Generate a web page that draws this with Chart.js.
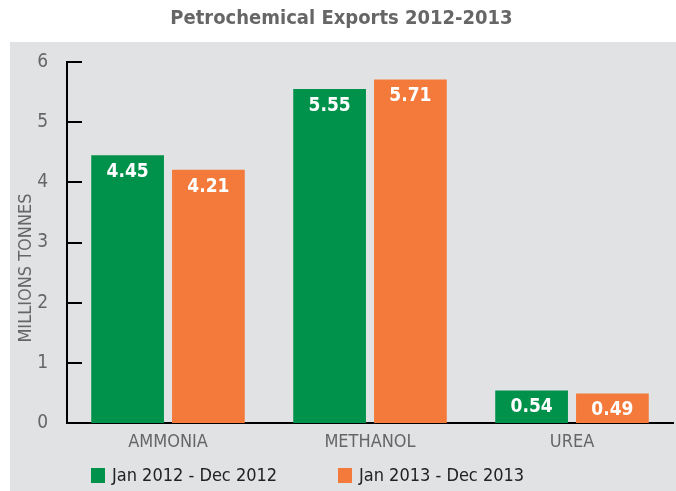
<!DOCTYPE html>
<html>
<head>
<meta charset="utf-8">
<script src="https://cdn.jsdelivr.net/npm/chart.js@4.4.1/dist/chart.umd.min.js"></script>
<style>
html, body { margin: 0; padding: 0; background: #fff; }
</style>
</head>
<body>
<canvas id="bar-chart" width="676" height="491"></canvas>
<script>
const categories = ['AMMONIA', 'METHANOL', 'UREA'];
const seriesNames = ['Jan 2012 - Dec 2012', 'Jan 2013 - Dec 2013'];
const exports2012 = [4.45, 5.55, 0.54];
const exports2013 = [4.21, 5.71, 0.49];
const yTicks = [0, 1, 2, 3, 4, 5, 6];
const colors = ['#00924a', '#f47a3c'];

const FONT = '"DejaVu Sans Condensed", "Liberation Sans Narrow", sans-serif';

// background panel, inward y ticks, value labels, axis title, legend
const decor = {
    id: 'decor',
    beforeDraw(chart) {
        const ctx = chart.ctx;
        ctx.save();
        ctx.fillStyle = '#fff';
        ctx.fillRect(0, 0, chart.width, chart.height);
        ctx.fillStyle = '#e1e2e4';
        ctx.fillRect(10, 42, chart.width - 10, chart.height - 42);
        ctx.restore();
    },
    afterDraw(chart) {
        const ctx = chart.ctx;
        const y = chart.scales.y;
        const left = chart.chartArea.left;
        ctx.save();
        // inward tick marks
        ctx.strokeStyle = '#000';
        ctx.lineWidth = 2;
        yTicks.forEach(v => {
            const py = Math.round(y.getPixelForValue(v));
            ctx.beginPath();
            ctx.moveTo(left, py);
            ctx.lineTo(left + 15, py);
            ctx.stroke();
        });
        // values inside the bars
        ctx.fillStyle = '#fff';
        ctx.font = 'bold 19px ' + FONT;
        ctx.textAlign = 'center';
        ctx.textBaseline = 'middle';
        chart.data.datasets.forEach((ds, i) => {
            chart.getDatasetMeta(i).data.forEach((bar, j) => {
                ctx.fillText(ds.data[j].toFixed(2), bar.x, bar.y + 17);
            });
        });
        // y axis title
        ctx.fillStyle = '#666';
        ctx.font = '18px ' + FONT;
        ctx.translate(26, 268);
        ctx.rotate(-Math.PI / 2);
        ctx.fillText('MILLIONS TONNES', 0, 0);
        ctx.restore();
        // legend
        ctx.save();
        ctx.font = '18px ' + FONT;
        ctx.textBaseline = 'middle';
        ctx.textAlign = 'left';
        const legendX = [91, 338];
        chart.data.datasets.forEach((ds, i) => {
            ctx.fillStyle = ds.backgroundColor;
            ctx.fillRect(legendX[i], 468, 14, 15);
            ctx.fillStyle = '#222';
            ctx.fillText(ds.label, legendX[i] + 21, 476);
        });
        ctx.restore();
    }
};

const ctx = document.getElementById('bar-chart').getContext('2d');
const myChart = new Chart(ctx, {
    type: 'bar',
    data: {
        labels: categories,
        datasets: [
            { label: seriesNames[0], data: exports2012, backgroundColor: colors[0] },
            { label: seriesNames[1], data: exports2013, backgroundColor: colors[1] }
        ]
    },
    options: {
        responsive: false,
        animation: false,
        categoryPercentage: 0.8,
        barPercentage: 0.9,
        layout: { padding: { left: 10, right: 3, top: 0, bottom: 30 } },
        scales: {
            x: {
                grid: { display: false },
                border: { display: true, color: '#000', width: 2 },
                ticks: { color: '#666', font: { family: FONT, size: 18 }, padding: 1 },
                afterFit(scale) { scale.height = 38; }
            },
            y: {
                min: 0,
                max: 6,
                grid: { display: false },
                border: { display: true, color: '#000', width: 2 },
                ticks: {
                    stepSize: 1,
                    color: '#666',
                    font: { family: FONT, size: 19 },
                    padding: 11
                },
                afterFit(scale) { scale.width = 57; }
            }
        },
        plugins: {
            legend: { display: false },
            tooltip: { enabled: false },
            title: {
                display: true,
                text: 'Petrochemical Exports 2012-2013',
                color: '#666',
                font: { family: FONT, size: 20, weight: 'bold' },
                padding: { top: 7, bottom: 31 }
            }
        }
    },
    plugins: [decor]
});
</script>
</body>
</html>
